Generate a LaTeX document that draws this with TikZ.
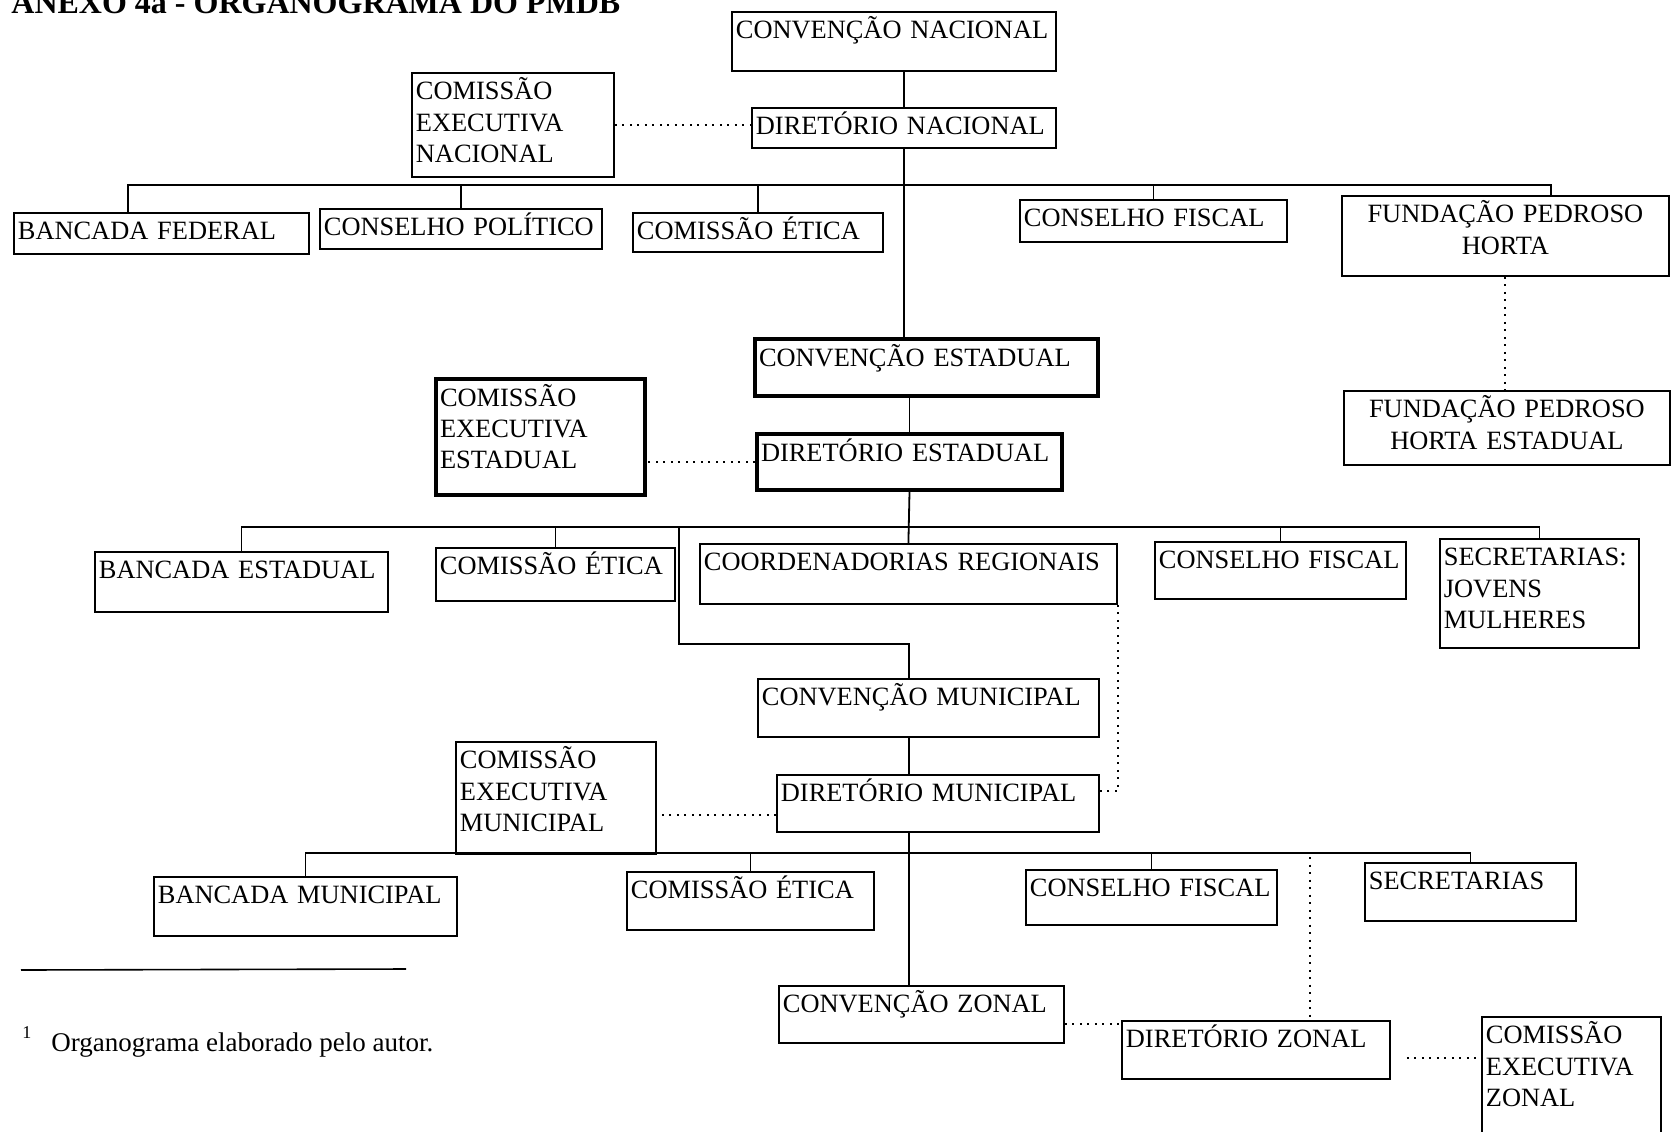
\documentclass[tikz,border=0pt]{standalone}
\usepackage{fontspec}
\setmainfont{Liberation Serif}
\begin{document}
\begin{tikzpicture}[x=0.5pt,y=-0.5pt,
    box/.style={draw,line width=0.9pt,anchor=north west,align=left,
      inner xsep=2pt,inner ysep=3pt,text height=10.5pt,
      font=\fontsize{13.2}{15.7}\selectfont},
    heavybox/.style={box,line width=2pt},
    link/.style={line width=0.9pt},
    dotline/.style={line width=1pt,dash pattern=on 1pt off 2.75pt}]
  \useasboundingbox (0,0) rectangle (1671,1131);
  \node[anchor=base west,inner sep=0,font=\bfseries\fontsize{16}{18}\selectfont] (title) at (11,13) {ANEXO 4a - ORGANOGRAMA DO PMDB};

  % nivel nacional
  \node[box,text width=158pt,text depth=13pt] (cn) at (731,11) {CONVENÇÃO~NACIONAL};
  \node[box,text width=148pt,text depth=3.5pt] (dn) at (751,107) {DIRETÓRIO~NACIONAL};
  \node[box,text width=97pt,text depth=35.5pt] (cen) at (411,72) {COMISSÃO\\EXECUTIVA\\NACIONAL};
  \node[box,text width=143.5pt,text depth=4pt] (bf) at (13,212) {BANCADA~FEDERAL};
  \node[box,text width=137pt,text depth=3.5pt] (cp) at (319,208) {CONSELHO~POLÍTICO};
  \node[box,text width=121pt,text depth=3pt] (ce) at (632,212) {COMISSÃO~ÉTICA};
  \node[box,text width=129.5pt,text depth=4.5pt] (cf) at (1019,199) {CONSELHO~FISCAL};
  \node[box,align=center,text width=159.5pt,text depth=23.5pt] (fph) at (1341,195) {FUNDAÇÃO~PEDROSO\\HORTA};

  % nivel estadual
  \node[heavybox,text width=167.5pt,text depth=12pt] (ces) at (753,337) {CONVENÇÃO~ESTADUAL};
  \node[heavybox,text width=148.5pt,text depth=11.5pt] (des) at (755,432) {DIRETÓRIO~ESTADUAL};
  \node[heavybox,text width=100.5pt,text depth=41.5pt] (cees) at (434,377) {COMISSÃO\\EXECUTIVA\\ESTADUAL};
  \node[box,align=center,text width=159pt,text depth=20.5pt] (fphe) at (1343,390) {FUNDAÇÃO~PEDROSO\\HORTA~ESTADUAL};
  \node[box,text width=142.5pt,text depth=13.5pt] (be) at (94,551) {BANCADA~ESTADUAL};
  \node[box,text width=115.5pt,text depth=10pt] (cee) at (435,547) {COMISSÃO~ÉTICA};
  \node[box,text width=204.5pt,text depth=13.5pt] (cr) at (699,543) {COORDENADORIAS~REGIONAIS};
  \node[box,text width=121.5pt,text depth=12pt] (cfe) at (1154,541) {CONSELHO~FISCAL};
  \node[box,text width=95.5pt,text depth=38pt] (sjm) at (1439,538) {SECRETARIAS:\\JOVENS\\MULHERES};

  % nivel municipal
  \node[box,text width=166.5pt,text depth=12.5pt] (cm) at (757,678) {CONVENÇÃO~MUNICIPAL};
  \node[box,text width=157pt,text depth=12pt] (dm) at (776,774) {DIRETÓRIO~MUNICIPAL};
  \node[box,text width=96pt,text depth=39.5pt] (cem) at (455,741) {COMISSÃO\\EXECUTIVA\\MUNICIPAL};
  \node[box,text width=147.5pt,text depth=13pt] (bm) at (153,876) {BANCADA~MUNICIPAL};
  \node[box,text width=119.5pt,text depth=12.5pt] (cetm) at (626,871) {COMISSÃO~ÉTICA};
  \node[box,text width=121.5pt,text depth=11pt] (cfm) at (1025,869) {CONSELHO~FISCAL};
  \node[box,text width=101.5pt,text depth=12.5pt] (sm) at (1364,862) {SECRETARIAS};

  % nivel zonal
  \node[box,text width=138.5pt,text depth=12pt] (cz) at (778,985) {CONVENÇÃO~ZONAL};
  \node[box,text width=130pt,text depth=12.5pt] (dz) at (1121,1020) {DIRETÓRIO~ZONAL};
  \node[box,text width=85.5pt,text depth=46pt] (cez) at (1481,1016) {COMISSÃO\\EXECUTIVA\\ZONAL};

  % ligacoes nacional
  \draw[link] (dn.north) -- (dn.north |- cn.south);
  \draw[dotline] (cen.east) -- (cen.east -| dn.west);
  \draw[link] (dn.south) -- (dn.south |- ces.north);
  \coordinate (nbl) at (128,185);
  \coordinate (nbr) at (1551,185);
  \draw[link] (nbl |- bf.north) -- (nbl) -- (nbr) -- (nbr |- fph.north);
  \draw[link] (cp.north) -- (cp.north |- nbl);
  \draw[link] (ce.north) -- (ce.north |- nbl);
  \draw[link] (cf.north) -- (cf.north |- nbl);

  % ligacoes estadual
  \draw[link] (des.north) -- (des.north |- ces.south);
  \draw[dotline] (des.west) -- (des.west -| cees.east);
  \draw[dotline] (fph.south) -- (fph.south |- fphe.north);
  \coordinate (sbus) at (0,527);
  \draw[link] (des.south) -- (cr.north);
  \draw[link] (be.north) -- (be.north |- sbus) -- (sjm.north |- sbus) -- (sjm.north);
  \draw[link] (cee.north) -- (cee.north |- sbus);
  \draw[link] (cfe.north) -- (cfe.north |- sbus);
  \coordinate (mturn) at (679,644);
  \coordinate (mtrunk) at (909,644);
  \draw[link] (mturn |- sbus) -- (mturn) -- (mtrunk) -- (mtrunk |- cm.north);

  % ligacoes municipal
  \draw[link] (mtrunk |- cm.south) -- (mtrunk |- dm.north);
  \draw[dotline] ([yshift=-6pt]dm.west) -- ([yshift=-6pt]dm.west -| cem.east);
  \draw[dotline] (cr.south east) |- ([yshift=6pt]dm.east);
  \coordinate (mbus) at (0,853);
  \draw[link] (mtrunk |- dm.south) -- (mtrunk |- cz.north);
  \draw[link] (bm.north) -- (bm.north |- mbus) -- (sm.north |- mbus) -- (sm.north);
  \draw[link] (cetm.north) -- (cetm.north |- mbus);
  \draw[link] (cfm.north) -- (cfm.north |- mbus);

  % ligacoes zonal
  \coordinate (zdot) at (1310,857);
  \draw[dotline] (zdot) -- (zdot |- dz.north);
  \draw[dotline] ([yshift=-5pt]cz.east) -- ([yshift=-5pt]cz.east -| dz.west);
  \draw[dotline] ([xshift=8pt,yshift=-4pt]dz.east) -- ([yshift=-4pt]dz.east -| cez.west);

  % nota
  \draw[line width=0.8pt] (21,970) -- (406,969);
  \node[anchor=north west,inner sep=0,font=\fontsize{9}{9}\selectfont] (fnmark) at (22,1026) {1};
  \node[anchor=base west,inner sep=0,font=\fontsize{13.5}{16}\selectfont] (fntext) at (51,1051) {Organograma elaborado pelo autor.};
\end{tikzpicture}
\end{document}
